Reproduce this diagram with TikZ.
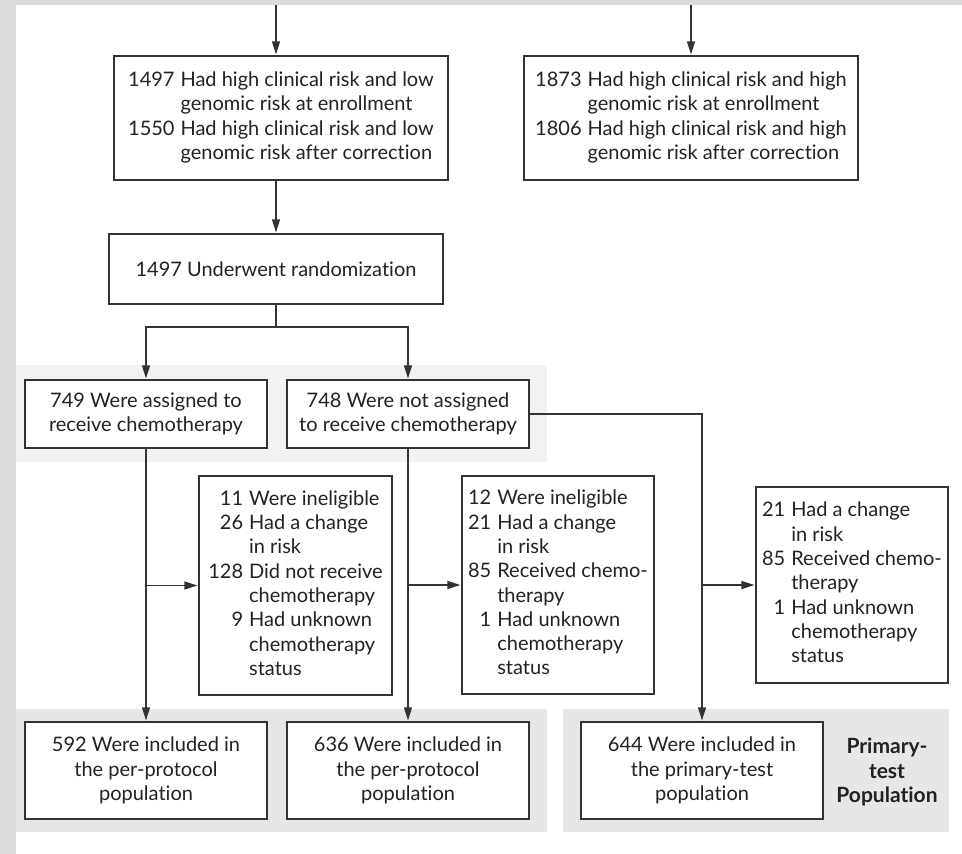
\documentclass[tikz,border=0pt]{standalone}
\usepackage{fontspec}
\setmainfont{Lato}[Ligatures={NoCommon}]
\usetikzlibrary{arrows.meta}
\definecolor{lineC}{HTML}{333333}
\definecolor{textC}{HTML}{222222}
\definecolor{stripC}{HTML}{DCDCDC}
\definecolor{bandA}{HTML}{F2F2F2}
\definecolor{bandB}{HTML}{E7E7E7}
\newcommand{\hanglist}[1]{\begin{tabular}{@{}r@{\hspace{6pt}}l@{}}#1\end{tabular}}
\begin{document}
\begin{tikzpicture}[x=1pt,y=-1pt,
  box/.style={draw=lineC, line width=1.2pt, fill=white, inner sep=0pt, text=textC,
    font=\fontsize{20}{24.3}\selectfont, align=center},
  conn/.style={draw=lineC, line width=1.2pt},
  arr/.style={conn, -{Triangle[length=13pt,width=8pt]}, shorten >=1pt},
  lbl/.style={inner sep=0pt, text=textC, font=\fontsize{21}{24.5}\selectfont\bfseries, align=center}
]
\useasboundingbox (0,0) rectangle (962,854);
\fill[stripC] (0,0) rectangle (962,854);
\fill[white] (16,5) rectangle (962,854);
% bands
\fill[bandA] (16,365) rectangle (547,462);
\fill[bandB] (16,709) rectangle (547,832);
\fill[bandB] (563,709) rectangle (949,832);

% nodes
\node[box, minimum width=334, minimum height=124] (b1) at (281,118)
  {\hanglist{1497 & Had high clinical risk and low\\ & genomic risk at enrollment\\
   1550 & Had high clinical risk and low\\ & genomic risk after correction}};
\node[box, minimum width=334, minimum height=124] (bR) at (691,118)
  {\hanglist{1873 & Had high clinical risk and high\\ & genomic risk at enrollment\\
   1806 & Had high clinical risk and high\\ & genomic risk after correction}};
\node[box, minimum width=334, minimum height=70] (b2) at (276,269)
  {1497 Underwent randomization};
\node[box, minimum width=242, minimum height=68] (a749) at (146,414)
  {749 Were assigned to\\receive chemotherapy};
\node[box, minimum width=242, minimum height=68] (a748) at (408,414)
  {748 Were not assigned\\to receive chemotherapy};
\node[box, minimum width=193, minimum height=219] (e1) at (295.5,585.5)
  {\hanglist{11 & Were ineligible\\ 26 & Had a change\\ & in risk\\
   128 & Did not receive\\ & chemotherapy\\ 9 & Had unknown\\ & chemotherapy\\ & status}};
\node[box, minimum width=192, minimum height=218] (e2) at (558,585)
  {\hanglist{12 & Were ineligible\\ 21 & Had a change\\ & in risk\\
   85 & Received chemo-\\ & therapy\\ 1 & Had unknown\\ & chemotherapy\\ & status}};
\node[box, minimum width=192, minimum height=196] (e3) at (852,585)
  {\hanglist{21 & Had a change\\ & in risk\\
   85 & Received chemo-\\ & therapy\\ 1 & Had unknown\\ & chemotherapy\\ & status}};
\node[box, minimum width=242, minimum height=97] (p592) at (146,770.5)
  {592 Were included in\\the per-protocol\\population};
\node[box, minimum width=242, minimum height=97] (p636) at (408,770.5)
  {636 Were included in\\the per-protocol\\population};
\node[box, minimum width=242, minimum height=97] (p644) at (702,770.5)
  {644 Were included in\\the primary-test\\population};
\node[lbl] (ptp) at (887,772) {Primary-\\test\\Population};

% connectors
\coordinate (t1) at (276,5);
\coordinate (tR) at (691,5);
\coordinate (s) at (276,327);
\draw[arr] (t1) -- (t1 |- b1.north);
\draw[arr] (tR) -- (tR |- bR.north);
\draw[arr] (b2.north |- b1.south) -- (b2.north);
\draw[arr] (b2.south) -- (s) -| (a749.north);
\draw[arr] (s) -| (a748.north);
\draw[arr] (a749.south) -- (p592.north);
\draw[arr] (a749.south |- e1.west) -- (e1.west);
\draw[arr] (a748.south) -- (p636.north);
\draw[arr] (a748.south |- e2.west) -- (e2.west);
\draw[arr] (a748.east) -| (p644.north);
\draw[arr] (p644.north |- e3.west) -- (e3.west);
\end{tikzpicture}
\end{document}
